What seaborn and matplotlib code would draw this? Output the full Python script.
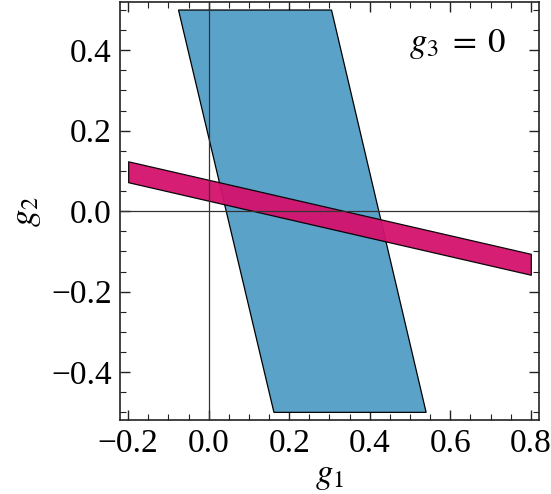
import numpy as np
import pandas as pd
import matplotlib
matplotlib.use("Agg")
import matplotlib.pyplot as plt
import seaborn as sns
from matplotlib.ticker import MultipleLocator

sns.set_theme(style="ticks")
plt.rcParams['font.family'] = ['Liberation Serif', 'DejaVu Serif']
plt.rcParams['mathtext.fontset'] = 'stix'
plt.rcParams['text.color'] = 'black'
plt.rcParams['axes.labelcolor'] = 'black'

# blue region (parallelogram corners, g1, g2)
blue_g1 = [-0.075, 0.305, 0.54, 0.162]
blue_g2 = [0.5, 0.5, -0.5, -0.5]

# pink band: g1 ends and upper/lower g2 at those ends
band_g1 = [-0.2, 0.8]
band_upper = [0.124, -0.106]
band_lower = [0.072, -0.158]

blue_col = "#5ba2c9"
pink_col = "#d4126c"

fig = plt.figure(figsize=(5.51, 4.94), dpi=100)
ax = fig.add_axes([0.218, 0.149, 0.760, 0.847])

ax.fill(blue_g1, blue_g2, facecolor=blue_col, edgecolor="black", linewidth=0.9, zorder=2)
ax.fill_between(band_g1, band_lower, band_upper, facecolor=pink_col, edgecolor="black",
                linewidth=0.9, alpha=0.95, zorder=3)

ax.axhline(0, color="#333333", linewidth=0.9, zorder=4)
ax.axvline(0, color="#333333", linewidth=0.9, zorder=4)

ax.set_xlim(-0.22, 0.82)
ax.set_ylim(-0.52, 0.52)

ax.xaxis.set_major_locator(MultipleLocator(0.2))
ax.xaxis.set_minor_locator(MultipleLocator(0.05))
ax.yaxis.set_major_locator(MultipleLocator(0.2))
ax.yaxis.set_minor_locator(MultipleLocator(0.05))
ax.xaxis.set_major_formatter(lambda v, p: f"{v:.1f}".replace("-", "\u2212"))
ax.yaxis.set_major_formatter(lambda v, p: f"{v:.1f}".replace("-", "\u2212"))

ax.tick_params(which="both", direction="in", top=True, right=True, color="#222222",
               labelcolor="black")
ax.tick_params(which="major", length=7, width=1.0, labelsize=24, pad=6)
ax.tick_params(which="minor", length=4, width=0.8)
for s in ax.spines.values():
    s.set_color("#222222")
    s.set_linewidth(1.2)

ax.set_xlabel("$g_1$", fontsize=25, labelpad=0)
ax.set_ylabel("$g_2$", fontsize=25, labelpad=6)
ax.text(0.807, 0.90, r"$g_3\;=\;0$", fontsize=25, ha="center", va="center",
        transform=ax.transAxes, zorder=5)

fig.savefig("out.png", dpi=100)
